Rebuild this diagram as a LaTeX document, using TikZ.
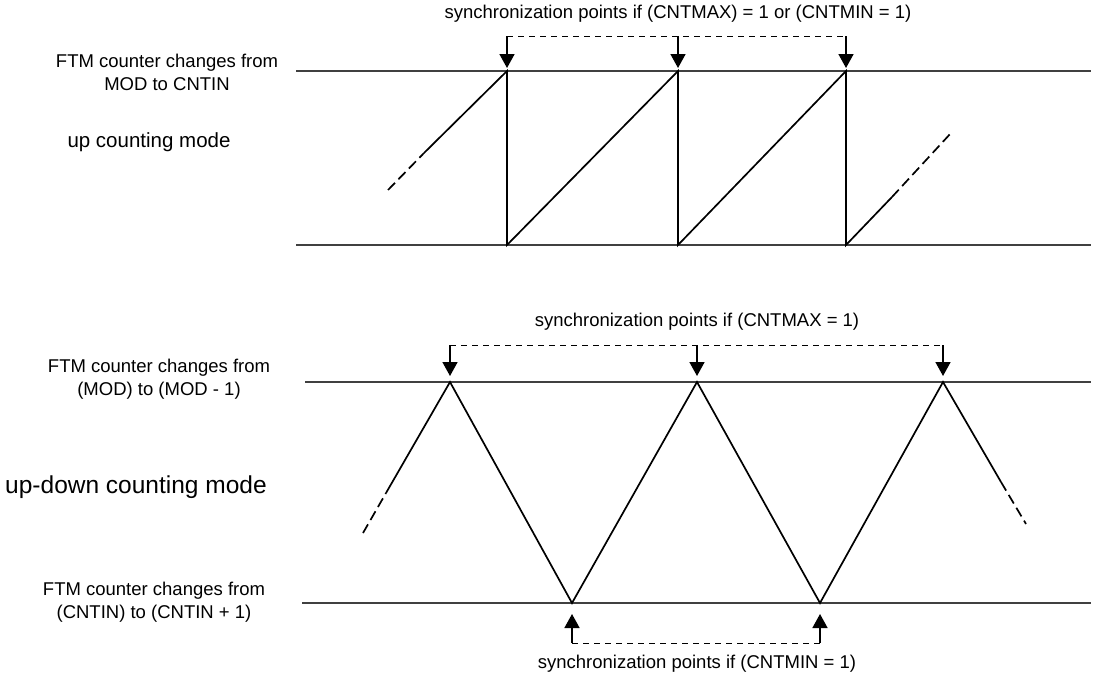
\documentclass[tikz,border=0pt]{standalone}
\usepackage{fontspec}
\setmainfont{Liberation Sans}
\usetikzlibrary{
  arrows.meta,
  positioning,
  calc
}

\tikzset{
  level/.style={line width=1.2pt, black!75},
  wave/.style={line width=1.7pt, line join=miter},
  waveext/.style={wave, dash pattern=on 10pt off 5pt},
  syncline/.style={line width=0.9pt, dash pattern=on 6pt off 5pt},
  syncarrow/.style={line width=1.6pt, -{Triangle[width=15pt,length=14pt]}},
  lbl/.style={font=\fontsize{18.5}{23}\selectfont, align=center, inner sep=0pt},
  modelbl/.style={font=\fontsize{24.5}{29}\selectfont, inner sep=0pt}
}

\begin{document}
\begin{tikzpicture}[x=1pt, y=-1pt]
\useasboundingbox (0,0) rectangle (1097,675);

% up counting mode
\coordinate (umaxL) at (296,71);  \coordinate (umaxR) at (1091,71);
\coordinate (uminL) at (296,245); \coordinate (uminR) at (1091,245);
\draw[level] (umaxL) -- (umaxR);
\draw[level] (uminL) -- (uminR);

\foreach \i/\x in {1/507, 2/678, 3/846} {
  \coordinate (p\i) at (\x,71);
  \coordinate (b\i) at (\x,245);
  \coordinate (s\i) at (\x,36);
}
\coordinate (uin) at (388,190);   \coordinate (uinS) at (424,153);
\coordinate (uoutS) at (892,197); \coordinate (uout) at (951,133);

\draw[waveext] (uin) -- (uinS);
\draw[wave] (uinS) -- (p1) -- (b1) -- (p2) -- (b2) -- (p3) -- (b3) -- (uoutS);
\draw[waveext] (uoutS) -- (uout);

\draw[syncline] (s1) -- (s3);
\foreach \i in {1,2,3}
  \draw[syncarrow] (s\i) -- ([yshift=3pt]p\i);

\node[lbl] (usync) at (678,14) {synchronization points if (CNTMAX) = 1 or (CNTMIN = 1)};
\node[lbl] (umaxtxt) at (167,72) {FTM counter changes from\\MOD to CNTIN};
\node[modelbl, font=\fontsize{20.5}{25}\selectfont] (umode) at (149,142) {up counting mode};

% up-down counting mode
\coordinate (dmaxL) at (305,382); \coordinate (dmaxR) at (1091,382);
\coordinate (dminL) at (302,603); \coordinate (dminR) at (1091,603);
\draw[level] (dmaxL) -- (dmaxR);
\draw[level] (dminL) -- (dminR);

\foreach \i/\x in {1/450, 2/697, 3/943} {
  \coordinate (q\i) at (\x,382);
  \coordinate (t\i) at (\x,345);
}
\foreach \i/\x in {1/572, 2/820} {
  \coordinate (v\i) at (\x,603);
  \coordinate (w\i) at (\x,643);
}
\coordinate (din) at (363,533);    \coordinate (dinS) at (386,493);
\coordinate (doutS) at (1001,482); \coordinate (dout) at (1026,524);

\draw[waveext] (din) -- (dinS);
\draw[wave] (dinS) -- (q1) -- (v1) -- (q2) -- (v2) -- (q3) -- (doutS);
\draw[waveext] (doutS) -- (dout);

\draw[syncline] (t1) -- (t3);
\foreach \i in {1,2,3}
  \draw[syncarrow] (t\i) -- ([yshift=6pt]q\i);
\draw[syncline] (w1) -- (w2);
\foreach \i in {1,2}
  \draw[syncarrow] (w\i) -- ([yshift=-11pt]v\i);

\node[lbl] (dmaxsync) at (697,322) {synchronization points if (CNTMAX = 1)};
\node[lbl] (dminsync) at (697,664) {synchronization points if (CNTMIN = 1)};
\node[lbl] (dmaxtxt) at (159,379) {FTM counter changes from\\(MOD) to (MOD - 1)};
\node[modelbl] (dmode) at (136,487) {up-down counting mode};
\node[lbl] (dmintxt) at (154,602) {FTM counter changes from\\(CNTIN) to (CNTIN + 1)};
\end{tikzpicture}
\end{document}
